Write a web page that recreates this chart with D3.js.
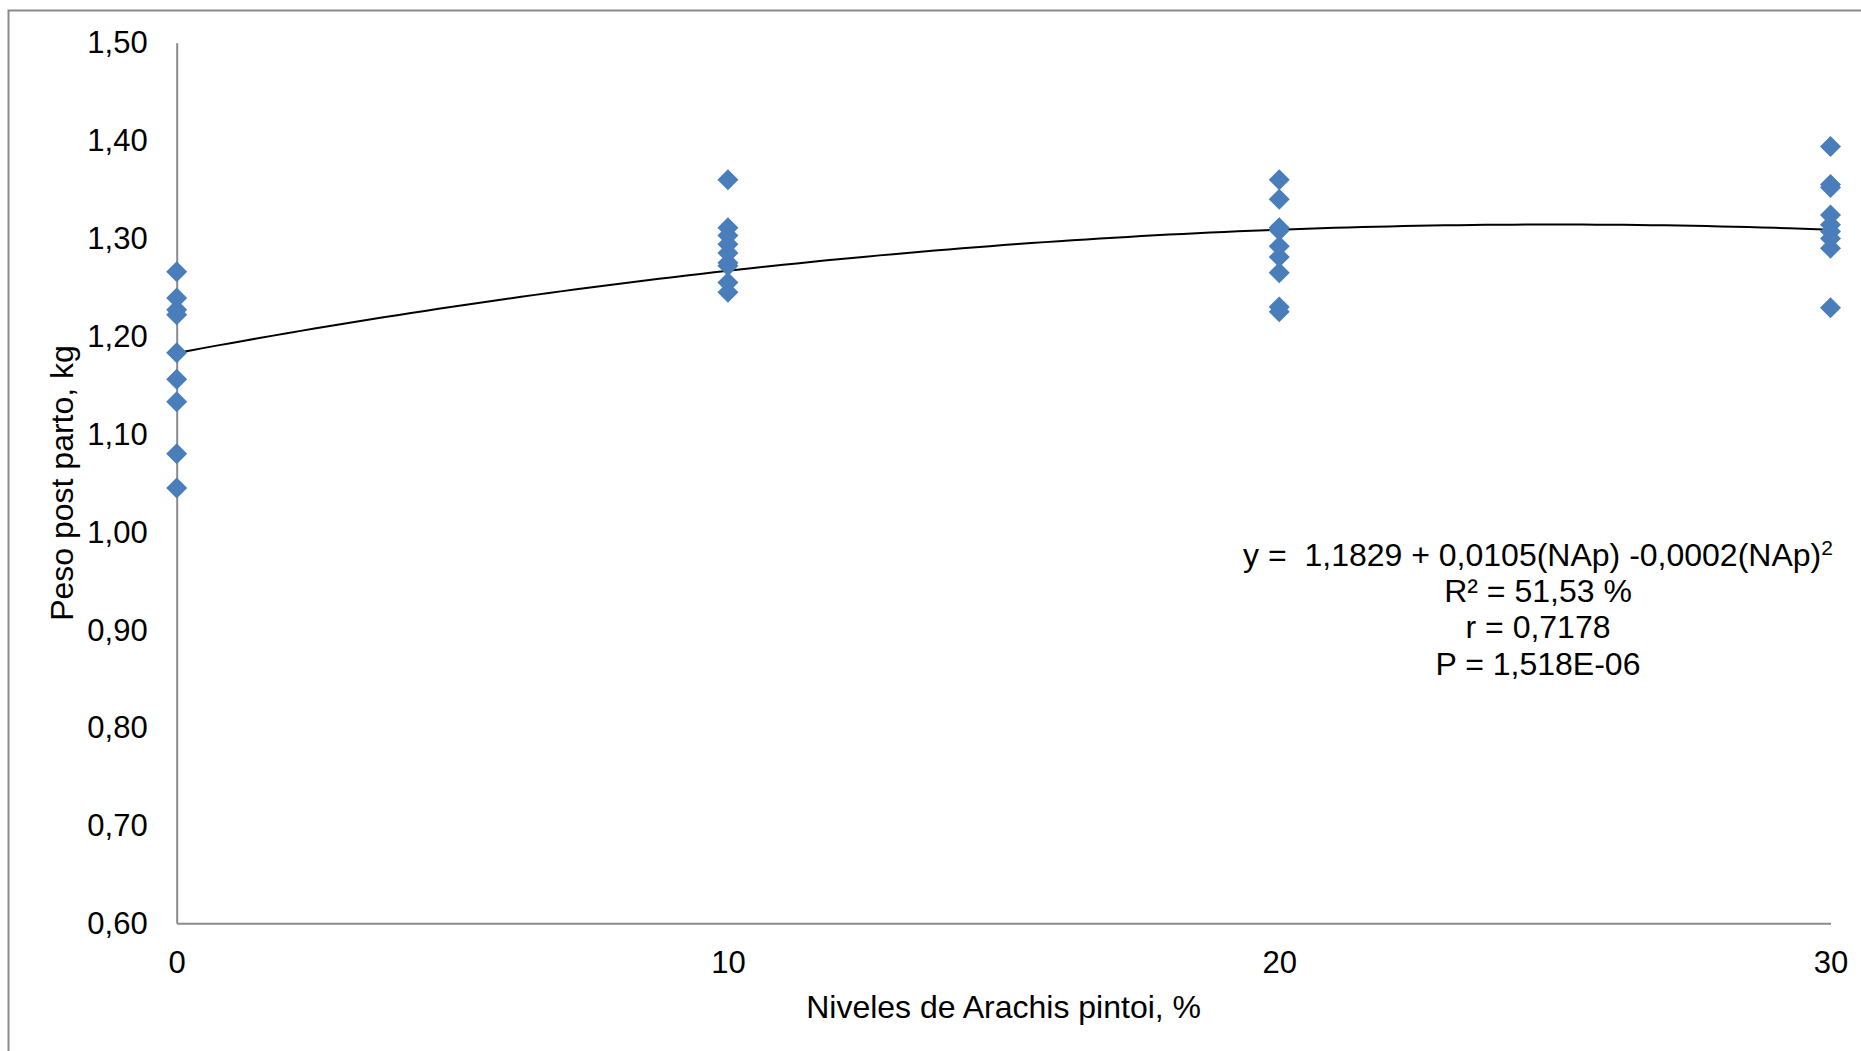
<!DOCTYPE html>
<html>
<head>
<meta charset="utf-8">
<script src="https://cdn.jsdelivr.net/npm/d3@7"></script>
<style>
  html, body { margin: 0; padding: 0; background: #fff; }
  svg text { font-family: Arial, "Liberation Sans", sans-serif; fill: #000; white-space: pre; }
</style>
</head>
<body>
<div id="chart"></div>
<script>
// niveles de Arachis pintoi (%)
var niveles = [0, 10, 20, 30];

// peso post parto (kg) por nivel
var peso0 = [1.266, 1.239, 1.227, 1.222, 1.183, 1.156, 1.133, 1.080, 1.045];
var peso10 = [1.360, 1.311, 1.303, 1.294, 1.285, 1.275, 1.272, 1.255, 1.245];
var peso20 = [1.360, 1.340, 1.311, 1.308, 1.292, 1.281, 1.265, 1.230, 1.225];
var peso30 = [1.394, 1.355, 1.352, 1.324, 1.314, 1.307, 1.300, 1.290, 1.229];

// coeficientes de la curva de tendencia (a + b*x + c*x^2)
var coef = [1.1829, 0.0105, -0.00021];

var yTicks = [0.6, 0.7, 0.8, 0.9, 1.0, 1.1, 1.2, 1.3, 1.4, 1.5];
var xTicks = [0, 10, 20, 30];

var anotacion = ['R\u00b2 = 51,53 %', 'r = 0,7178', 'P = 1,518E-06'];

var width = 1861, height = 1051;
var margin = { left: 176.7, right: 1861 - 1830.5, top: 42.7, bottom: 1051 - 923.3 };

var svg = d3.select('#chart').append('svg')
    .attr('width', width)
    .attr('height', height);

// outer chart border (only top and left fall inside the picture)
svg.append('rect')
    .attr('x', 8.5).attr('y', 10.5)
    .attr('width', 1900).attr('height', 1100)
    .attr('fill', 'none')
    .attr('stroke', '#8a8a8a')
    .attr('stroke-width', 2);

var x = d3.scaleLinear().domain([0, 30]).range([margin.left, width - margin.right]);
var y = d3.scaleLinear().domain([0.6, 1.5]).range([height - margin.bottom, margin.top]);

var fmt = function(d) { return d3.format('.2f')(d).replace('.', ','); };

// y axis
var yAxis = svg.append('g')
    .attr('transform', 'translate(' + margin.left + ',0)')
    .call(d3.axisLeft(y).tickValues(yTicks).tickFormat(fmt).tickSize(0).tickPadding(29));
yAxis.select('.domain').attr('stroke', '#8a8a8a').attr('stroke-width', 2);
yAxis.selectAll('text').style('font-size', '31px').attr('dy', '0.33em');

// x axis
var xAxis = svg.append('g')
    .attr('transform', 'translate(0,' + y(0.6) + ')')
    .call(d3.axisBottom(x).tickValues(xTicks).tickFormat(d3.format('d')).tickSize(0).tickPadding(28));
xAxis.select('.domain').attr('stroke', '#8a8a8a').attr('stroke-width', 2);
xAxis.selectAll('text').style('font-size', '31px');

// axis titles
svg.append('text')
    .attr('x', x(15))
    .attr('y', 1018)
    .attr('text-anchor', 'middle')
    .style('font-size', '32px')
    .text('Niveles de Arachis pintoi, %');

svg.append('text')
    .attr('transform', 'translate(73,483) rotate(-90)')
    .attr('text-anchor', 'middle')
    .style('font-size', '32px')
    .text('Peso post parto, kg');

// trend curve
var curva = d3.range(0, 30.01, 0.25).map(function(v) {
    return [v, coef[0] + coef[1] * v + coef[2] * v * v];
});
svg.append('path')
    .datum(curva)
    .attr('fill', 'none')
    .attr('stroke', '#000')
    .attr('stroke-width', 2)
    .attr('d', d3.line().x(function(d) { return x(d[0]); }).y(function(d) { return y(d[1]); }));

// points
var series = [peso0, peso10, peso20, peso30];
var puntos = [];
series.forEach(function(s, i) {
    s.forEach(function(v) { puntos.push({ x: niveles[i], y: v }); });
});
svg.append('g').selectAll('path')
    .data(puntos)
    .enter()
    .append('path')
    .attr('transform', function(d) { return 'translate(' + x(d.x) + ',' + y(d.y) + ')'; })
    .attr('d', 'M0,-10.5L10.5,0L0,10.5L-10.5,0Z')
    .attr('fill', '#4a7ebb');

// equation annotation
var cx = 1538;
var eq = svg.append('text')
    .attr('x', cx)
    .attr('y', 566)
    .attr('text-anchor', 'middle')
    .style('font-size', '32px');
eq.append('tspan').text('y =  1,1829 + 0,0105(NAp) -0,0002(NAp)');
eq.append('tspan').attr('dy', '-11').style('font-size', '21px').text('2');

svg.append('g').selectAll('text')
    .data(anotacion)
    .enter()
    .append('text')
    .attr('x', cx)
    .attr('y', function(d, i) { return 602 + i * 36.4; })
    .attr('text-anchor', 'middle')
    .style('font-size', '32px')
    .text(function(d) { return d; });
</script>
</body>
</html>
